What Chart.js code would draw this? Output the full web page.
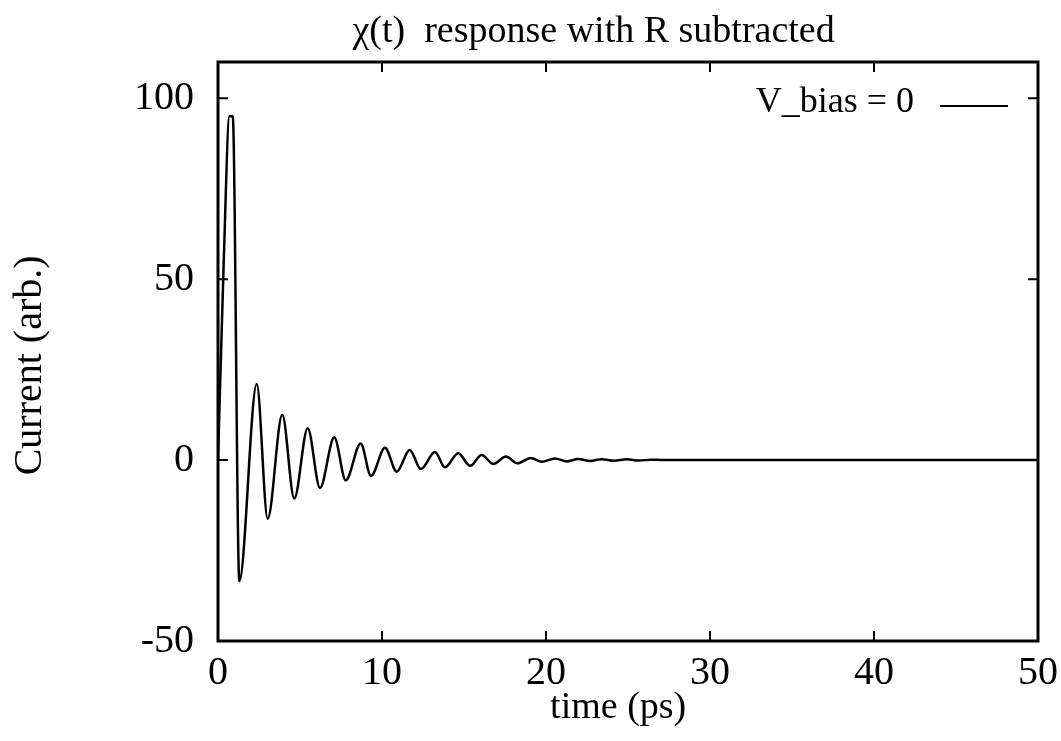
<!DOCTYPE html>
<html>
<head>
<meta charset="utf-8">
<script src="https://cdn.jsdelivr.net/npm/chart.js@4/dist/chart.umd.min.js"></script>
<style>
html,body{margin:0;padding:0;background:#fff;}
#wrap{width:1061px;height:741px;position:relative;}
</style>
</head>
<body>
<div id="wrap"><canvas id="c" width="1061" height="741"></canvas></div>
<script>
// ---- data ----
const titleText = "\u03c7(t)  response with R subtracted";
const xTitle = "time (ps)";
const yTitle = "Current (arb.)";
const seriesLabel = "V_bias = 0";
const xTicks = [0, 10, 20, 30, 40, 50];
const yTicks = [-50, 0, 50, 100];
const times = [0, 0.35, 0.7, 0.9, 1.3, 2.36, 3.03, 3.92, 4.65, 5.47, 6.22, 7.09, 7.79, 8.7, 9.33, 10.18, 10.9, 11.69, 12.37, 13.23, 13.84, 14.65, 15.37, 16.08, 16.79, 17.56, 18.25, 19.07, 19.74, 20.55, 21.26, 21.97, 22.7, 23.4, 24.15, 24.92, 25.65, 26.4, 27.2, 50];
const current = [0, 55, 95, 95, -33.5, 21, -16.2, 12.5, -10.6, 8.8, -7.7, 6.3, -5.6, 4.6, -4.4, 3.4, -3.2, 2.8, -2.5, 2.2, -2.0, 1.9, -1.6, 1.4, -1.1, 1.0, -0.9, 0.6, -0.5, 0.45, -0.37, 0.3, -0.25, 0.25, -0.2, 0.2, -0.15, 0.12, 0, 0];

const points = times.map((t, i) => ({x: t, y: current[i]}));
const SERIF = "'Liberation Serif', 'DejaVu Serif', serif";

const framePlugin = {
  id: 'framePlugin',
  afterDatasetsDraw(chart) {
    const {ctx, chartArea: a, scales} = chart;
    ctx.save();
    ctx.strokeStyle = '#000';
    ctx.lineWidth = 2;
    const tl = 10;
    ctx.beginPath();
    xTicks.forEach(v => {
      const px = scales.x.getPixelForValue(v);
      ctx.moveTo(px, a.bottom); ctx.lineTo(px, a.bottom - tl);
      ctx.moveTo(px, a.top); ctx.lineTo(px, a.top + tl);
    });
    yTicks.forEach(v => {
      const py = scales.y.getPixelForValue(v);
      ctx.moveTo(a.left, py); ctx.lineTo(a.left + tl, py);
      ctx.moveTo(a.right, py); ctx.lineTo(a.right - tl, py);
    });
    ctx.stroke();
    ctx.lineWidth = 3;
    ctx.strokeRect(a.left, a.top, a.right - a.left, a.bottom - a.top);
    ctx.fillStyle = '#000';
    ctx.textAlign = 'center';
    ctx.textBaseline = 'middle';
    // title
    ctx.font = "38px " + SERIF;
    ctx.fillText(titleText, a.left + 0.458 * (a.right - a.left), 32);
    // axis titles
    ctx.font = "38px " + SERIF;
    ctx.fillText(xTitle, a.left + 0.488 * (a.right - a.left), 708);
    ctx.save();
    ctx.translate(30, a.top + 0.524 * (a.bottom - a.top));
    ctx.rotate(-Math.PI / 2);
    ctx.font = "40px " + SERIF;
    ctx.fillText(yTitle, 0, 0);
    ctx.restore();
    // legend
    const ds = chart.data.datasets[0];
    ctx.font = "36px " + SERIF;
    ctx.textAlign = 'right';
    ctx.fillText(ds.label, 914, 103);
    ctx.lineWidth = 2;
    ctx.beginPath();
    ctx.moveTo(940, 106); ctx.lineTo(1008, 106);
    ctx.stroke();
    ctx.restore();
  }
};

new Chart(document.getElementById('c'), {
  type: 'scatter',
  data: {
    datasets: [{
      label: seriesLabel,
      data: points,
      showLine: true,
      borderColor: '#000',
      backgroundColor: '#000',
      borderWidth: 2.5,
      pointRadius: 0,
      cubicInterpolationMode: 'monotone'
    }]
  },
  options: {
    responsive: false,
    animation: false,
    layout: {padding: {top: 62, right: 23, left: 0, bottom: 0}},
    plugins: {legend: {display: false}, title: {display: false}, tooltip: {enabled: false}},
    scales: {
      x: {
        type: 'linear', min: 0, max: 50,
        grid: {display: false},
        border: {display: false},
        afterBuildTicks: s => { s.ticks = xTicks.map(v => ({value: v})); },
        afterFit: s => { s.height = 100; },
        ticks: {color: '#000', font: {family: SERIF, size: 40}, padding: 0, maxRotation: 0}
      },
      y: {
        type: 'linear', min: -50, max: 110,
        grid: {display: false},
        border: {display: false},
        afterBuildTicks: s => { s.ticks = yTicks.map(v => ({value: v})); },
        afterFit: s => { s.width = 218; },
        ticks: {color: '#000', font: {family: SERIF, size: 40}, padding: 16}
      }
    }
  },
  plugins: [framePlugin]
});
</script>
</body>
</html>
